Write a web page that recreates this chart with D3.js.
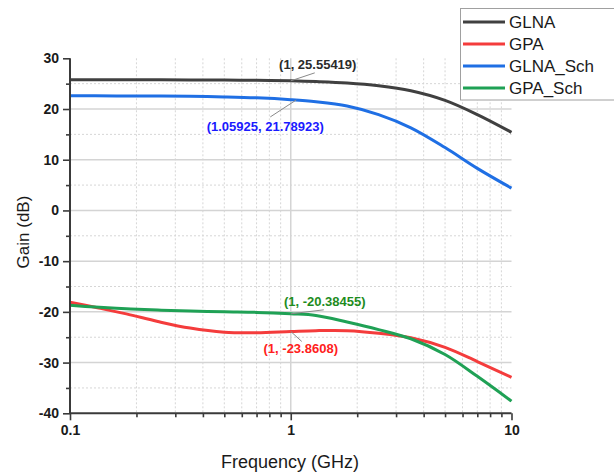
<!DOCTYPE html>
<html>
<head>
<meta charset="utf-8">
<script src="https://cdn.jsdelivr.net/npm/d3@7/dist/d3.min.js"></script>
<style>
  html, body { margin: 0; padding: 0; background: #fff; }
  svg { display: block; font-family: "Liberation Sans", Arial, sans-serif; }
</style>
</head>
<body>
<svg id="chart" width="614" height="475"></svg>
<script>
// ---------- data ----------
const freq      = [0.1, 0.13, 0.18, 0.25, 0.35, 0.5, 0.7, 1, 1.3, 1.8, 2.5, 3.5, 5, 7, 10];
const glna      = [25.78, 25.78, 25.77, 25.76, 25.74, 25.7, 25.65, 25.55, 25.42, 25.15, 24.6, 23.6, 21.7, 18.9, 15.4];
const gpa       = [-18.1, -19.1, -20.4, -21.9, -23.2, -24.0, -24.1, -23.86, -23.7, -23.7, -24.2, -25.1, -27.0, -29.8, -32.9];
const glnaSch   = [22.6, 22.6, 22.58, 22.55, 22.5, 22.38, 22.2, 21.85, 21.45, 20.6, 18.9, 16.3, 12.4, 8.3, 4.4];
const gpaSch    = [-18.7, -19.05, -19.4, -19.65, -19.85, -20.0, -20.1, -20.38, -20.7, -22.0, -23.5, -25.3, -28.4, -32.7, -37.6];

const seriesNames  = ["GLNA", "GPA", "GLNA_Sch", "GPA_Sch"];
const seriesValues = [glna, gpa, glnaSch, gpaSch];
const seriesColors = ["#404040", "#f43c3c", "#1f6fe4", "#1fa155"];

const yTicks      = [-40, -30, -20, -10, 0, 10, 20, 30];
const yTickLabels = ["-40", "-30", "-20", "-10", "0", "10", "20", "30"];
const yMinorTicks = [-35, -25, -15, -5, 5, 15, 25];
const xTicks      = [0.1, 1, 10];
const xTickLabels = ["0.1", "1", "10"];
const xMinorTicks = [0.2, 0.3, 0.4, 0.5, 0.6, 0.7, 0.8, 0.9, 2, 3, 4, 5, 6, 7, 8, 9];

const annFreq   = [1, 1.05925, 1, 1];
const annValue  = [25.55419, 21.78923, -20.38455, -23.8608];
const annText   = ["(1, 25.55419)", "(1.05925, 21.78923)", "(1, -20.38455)", "(1, -23.8608)"];
const annColors = ["#2b2b2b", "#1a1aff", "#1e8c1e", "#ff2020"];

// ---------- layout ----------
const svg = d3.select("#chart");
const X0 = 70, X1 = 511.5, Y0 = 413.3, Y1 = 58.3;
const x = d3.scaleLog().domain([0.1, 10]).range([X0, X1]);
const y = d3.scaleLinear().domain([-40, 30]).range([Y0, Y1]);

// grid
const grid = svg.append("g");
grid.selectAll(".hminor").data(yMinorTicks).enter().append("line")
  .attr("x1", X0).attr("x2", X1).attr("y1", d => y(d)).attr("y2", d => y(d))
  .attr("stroke", "#d6d6d6").attr("stroke-width", 1).attr("stroke-dasharray", "2,2");
grid.selectAll(".vminor").data(xMinorTicks).enter().append("line")
  .attr("x1", d => x(d)).attr("x2", d => x(d)).attr("y1", Y1).attr("y2", Y0)
  .attr("stroke", "#d6d6d6").attr("stroke-width", 1).attr("stroke-dasharray", "2,2");
grid.selectAll(".hmajor").data(yTicks.filter(d => d > -40 && d < 30)).enter().append("line")
  .attr("x1", X0).attr("x2", X1).attr("y1", d => y(d)).attr("y2", d => y(d))
  .attr("stroke", "#d4d4d4").attr("stroke-width", 1.5);
grid.append("line")
  .attr("x1", x(1)).attr("x2", x(1)).attr("y1", Y1).attr("y2", Y0)
  .attr("stroke", "#d4d4d4").attr("stroke-width", 1.5);

// curves
const line = d3.line().x(d => x(d[0])).y(d => y(d[1])).curve(d3.curveCatmullRom.alpha(0.5));
const curves = svg.append("g");
seriesValues.forEach((vals, i) => {
  curves.append("path")
    .datum(freq.map((f, k) => [f, vals[k]]))
    .attr("fill", "none")
    .attr("stroke", seriesColors[i])
    .attr("stroke-width", 3)
    .attr("stroke-linecap", "butt")
    .attr("d", line);
});

// axes
const axisColor = "#3a3a3a";
const yAxis = svg.append("g").attr("transform", `translate(${X0},0)`)
  .call(d3.axisLeft(y).tickValues(yTicks).tickSize(7).tickPadding(4).tickFormat((d, i) => yTickLabels[i]));
const yAxisMinor = svg.append("g").attr("transform", `translate(${X0},0)`)
  .call(d3.axisLeft(y).tickValues(yMinorTicks).tickSize(4).tickFormat(""));
const xAxis = svg.append("g").attr("transform", `translate(0,${Y0})`)
  .call(d3.axisBottom(x).tickValues(xTicks).tickSize(7).tickPadding(5).tickFormat((d, i) => xTickLabels[i]));
const xAxisMinor = svg.append("g").attr("transform", `translate(0,${Y0})`)
  .call(d3.axisBottom(x).tickValues(xMinorTicks).tickSize(4).tickFormat(""));

[yAxis, yAxisMinor, xAxis, xAxisMinor].forEach(g => {
  g.select(".domain").attr("stroke", axisColor).attr("stroke-width", 2);
  g.selectAll(".tick line").attr("stroke", axisColor).attr("stroke-width", 1.6);
  g.selectAll(".tick text").attr("fill", "#1a1a1a").attr("font-size", 14).attr("font-weight", "bold")
    .attr("font-family", "'Liberation Sans', Arial, sans-serif");
});
yAxis.select(".domain").attr("d", `M0,${Y0}V${Y1}`);
yAxisMinor.select(".domain").remove();
xAxis.select(".domain").attr("d", `M${X0},0H${X1}`);
xAxisMinor.select(".domain").remove();

// axis titles
svg.append("text")
  .attr("x", 290).attr("y", 468)
  .attr("text-anchor", "middle").attr("font-size", 18).attr("fill", "#1a1a1a")
  .text("Frequency (GHz)");
svg.append("text")
  .attr("transform", "translate(29,232) rotate(-90)")
  .attr("text-anchor", "middle").attr("font-size", 17).attr("fill", "#1a1a1a")
  .text("Gain (dB)");

// annotations (label offsets relative to the marked point)
const annLabelOffset = [[27, -16], [-31, 27], [34, -12], [10, 17]];
const annLeaderEnd   = [[24, -8], [-26, 17], [33, -4], [11, 10]];
const ann = svg.append("g");
annText.forEach((t, i) => {
  const px = x(annFreq[i]), py = y(annValue[i]);
  ann.append("line")
    .attr("x1", px).attr("y1", py)
    .attr("x2", px + annLeaderEnd[i][0]).attr("y2", py + annLeaderEnd[i][1])
    .attr("stroke", "#8a8a8a").attr("stroke-width", 1);
  ann.append("text")
    .attr("x", px + annLabelOffset[i][0]).attr("y", py + annLabelOffset[i][1])
    .attr("text-anchor", "middle").attr("dominant-baseline", "central")
    .attr("font-size", 13).attr("font-weight", "bold").attr("fill", annColors[i])
    .text(t);
});

// legend
const lg = svg.append("g");
lg.append("rect").attr("x", 460.5).attr("y", 8.5).attr("width", 170).attr("height", 91.5)
  .attr("fill", "#fff").attr("stroke", "#a0a0a0").attr("stroke-width", 1);
seriesNames.forEach((n, i) => {
  const ly = 22 + i * 22;
  lg.append("line").attr("x1", 463).attr("x2", 505).attr("y1", ly).attr("y2", ly)
    .attr("stroke", seriesColors[i]).attr("stroke-width", 3);
  lg.append("text").attr("x", 509).attr("y", ly).attr("dominant-baseline", "central")
    .attr("font-size", 17).attr("fill", "#1a1a1a").text(n);
});
</script>
</body>
</html>
